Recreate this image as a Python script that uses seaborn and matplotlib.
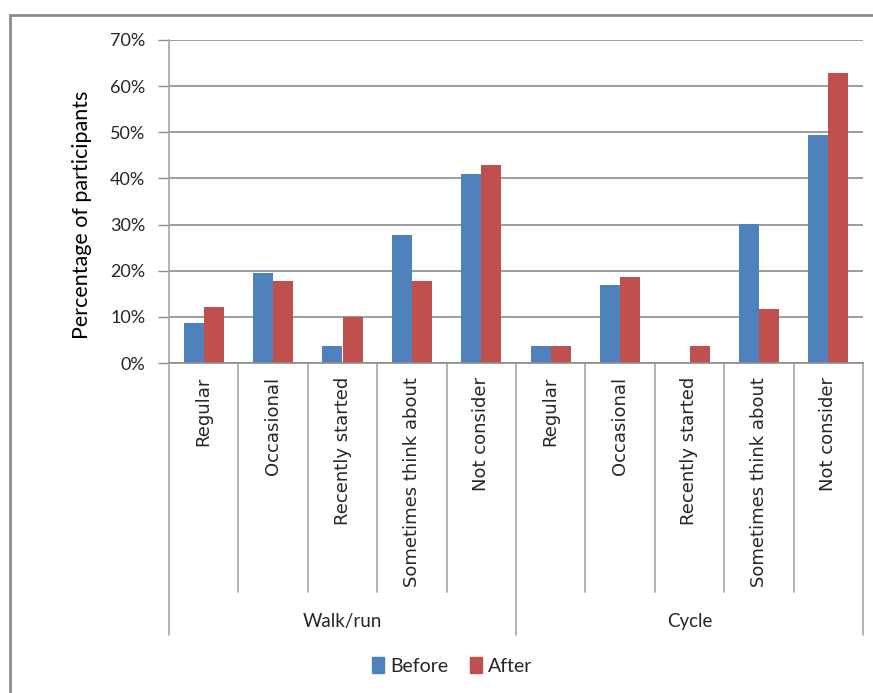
import matplotlib
matplotlib.use("Agg")
import matplotlib.pyplot as plt
from matplotlib.patches import Rectangle
from matplotlib.ticker import MultipleLocator, FuncFormatter
import seaborn as sns
import pandas as pd

# Survey results: share of participants per stage, before and after
activities = ["Walk/run", "Cycle"]
stages = ["Regular", "Occasional", "Recently started", "Sometimes think about", "Not consider"]
before = [8.6, 19.4, 3.6, 27.8, 40.9, 3.6, 17.0, 0.0, 30.2, 49.4]
after = [12.2, 17.8, 10.0, 17.8, 42.9, 3.6, 18.7, 3.6, 11.7, 62.9]
periods = ["Before", "After"]
y_ticks = [0, 10, 20, 30, 40, 50, 60, 70]

BLUE = "#4F81BD"
RED = "#C0504D"
GRID = "#8C8C8C"
TEXT = "#262626"

slots = [f"{a}|{s}" for a in activities for s in stages]
df = pd.DataFrame({
    "slot": slots * 2,
    "period": ["Before"] * len(slots) + ["After"] * len(slots),
    "value": before + after,
})

sns.set_theme(style="white")
plt.rcParams["font.family"] = ["Lato", "DejaVu Sans"]

W, H = 873, 693
fig = plt.figure(figsize=(W / 100, H / 100), dpi=100)
left, right, top, bottom = 169, 863, 40, 363
ax = fig.add_axes([left / W, 1 - bottom / H, (right - left) / W, (bottom - top) / H])

sns.barplot(data=df, x="slot", y="value", hue="period", order=slots,
            hue_order=periods, palette=[BLUE, RED], width=0.58,
            saturation=1, edgecolor="none", ax=ax, legend=False)

ax.set_ylim(0, 70)
ax.set_xlim(-0.5, len(slots) - 0.5)
ax.yaxis.set_major_locator(MultipleLocator(10))
ax.yaxis.set_major_formatter(FuncFormatter(lambda v, p: f"{v:.0f}%"))
ax.set_yticks(y_ticks)
ax.grid(axis="y", color=GRID, linewidth=1.2)
ax.set_axisbelow(True)
for side in ["top", "right"]:
    ax.spines[side].set_visible(False)
ax.spines["left"].set_color("#A6A6A6")
ax.spines["bottom"].set_color(GRID)
ax.spines["left"].set_linewidth(1.2)
ax.spines["bottom"].set_linewidth(1.2)
ax.tick_params(axis="y", left=True, length=8, width=1, color=GRID,
               labelsize=13, labelcolor=TEXT, pad=9)
ax.set_xticks([])
ax.set_xlabel("")
ax.set_ylabel("Percentage of participants", fontsize=15.5, color="black")
ax.yaxis.set_label_coords(-0.111, 0.46)

# Two-level category axis: stage labels, separators and activity groups
xt = ax.get_xaxis_transform()
ph = bottom - top
for i, slot in enumerate(slots):
    stage = slot.split("|")[1]
    ax.annotate(stage, xy=(i, 0), xycoords=xt, xytext=(0, -14),
                textcoords="offset pixels", rotation=90, ha="center", va="top",
                fontsize=13, family="DejaVu Sans", color=TEXT)
n = len(stages)
for b in range(len(slots) + 1):
    depth = 272 if b % n == 0 else 229
    ax.plot([b - 0.5, b - 0.5], [0, -depth / ph], transform=xt, color="#A6A6A6",
            linewidth=1.2, clip_on=False)
for g, act in enumerate(activities):
    ax.annotate(act, xy=(g * n + (n - 1) / 2, 0), xycoords=xt, xytext=(0, -259),
                textcoords="offset pixels", ha="center", va="center",
                fontsize=13.5, color=TEXT)

handles = [Rectangle((0, 0), 1, 1, color=c) for c in [BLUE, RED]]
fig.legend(handles, periods, loc="center", bbox_to_anchor=(452 / W, 1 - 666 / H),
           ncol=2, frameon=False, fontsize=14, handlelength=0.65, handleheight=0.9,
           handletextpad=0.3, columnspacing=1.1, labelcolor=TEXT)

# Chart frame
fig.patches.append(Rectangle((10 / W, -0.1), 1.2, 1 - 15 / H + 0.1,
                             transform=fig.transFigure, fill=False,
                             edgecolor="#8C8C8C", linewidth=2, zorder=0))

fig.savefig("out.png", dpi=100)
